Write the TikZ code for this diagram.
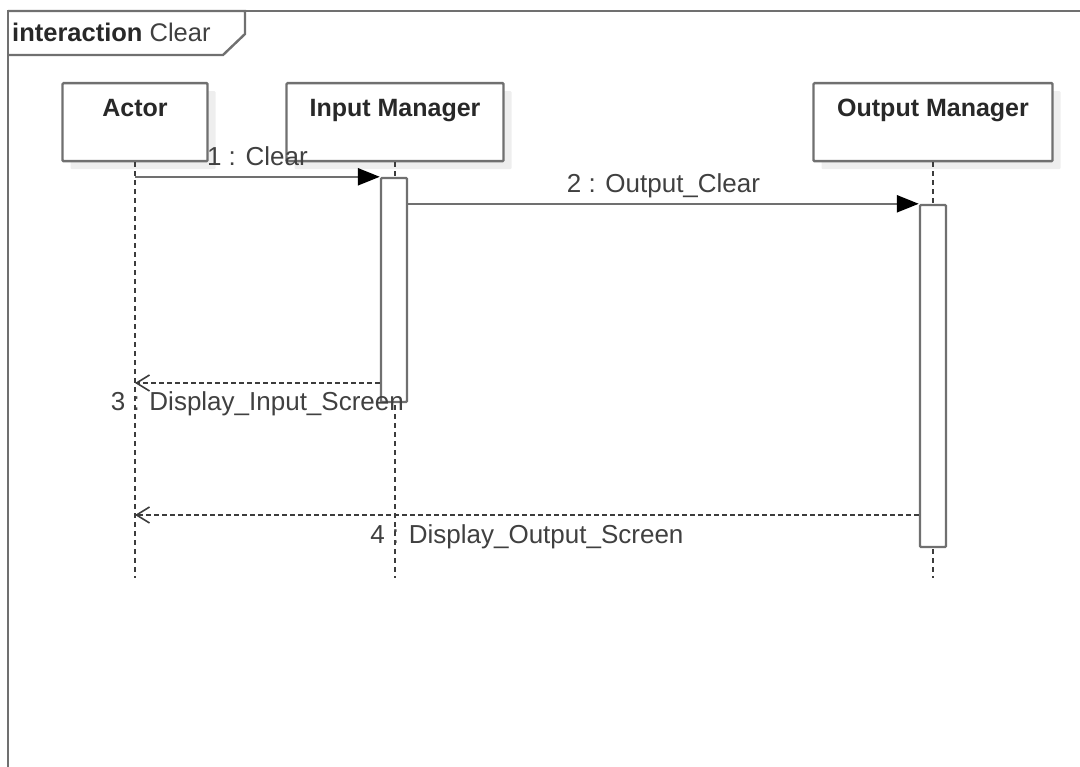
\documentclass[tikz,border=0pt]{standalone}
\usepackage{fontspec}
\setmainfont{Liberation Sans}
\usetikzlibrary{positioning, arrows.meta, shadows}
\definecolor{LineGray}{RGB}{112,112,112}
\definecolor{DashGray}{RGB}{60,60,60}
\definecolor{TextGray}{RGB}{64,64,64}
\definecolor{HeadText}{RGB}{40,40,40}
\definecolor{ShadowGray}{RGB}{238,238,238}

\begin{document}
\begin{tikzpicture}[
  x=1pt, y=-1pt,
  head/.style={
    draw=LineGray,
    line width=2.4pt,
    fill=white,
    rounded corners=1pt,
    anchor=north,
    inner xsep=0pt,
    inner ysep=0pt,
    text height=33pt,
    text depth=45pt,
    text=HeadText,
    font=\fontsize{25}{30}\selectfont\bfseries,
    drop shadow={shadow xshift=8pt, shadow yshift=-8pt, fill=ShadowGray, opacity=1}
  },
  act/.style={
    draw=LineGray,
    line width=2.4pt,
    fill=white,
    rounded corners=1pt,
    minimum width=26pt,
    inner sep=0pt
  },
  life/.style={DashGray, line width=1.6pt, dash pattern=on 5pt off 4pt},
  call/.style={LineGray, line width=2.4pt,
    -{Triangle[length=22pt,width=17pt,color=black]}},
  reply/.style={DashGray, line width=1.8pt, dash pattern=on 5pt off 3pt,
    -{Straight Barb[length=13pt,width=16pt,line width=1.6pt]}},
  lab/.style={text=TextGray, font=\fontsize{26}{31}\selectfont,
    inner sep=0pt, anchor=base},
  labup/.style={lab, yshift=11pt},
  labdown/.style={lab, yshift=-28pt},
]
  \useasboundingbox (0,0) rectangle (1080,767);

  % ========== interaction frame ==========
  \draw[LineGray, line width=2.4pt] (8,767) -- (8,11) -- (1080,11);
  \draw[LineGray, line width=2.4pt] (8,11) -- (245,11) -- (245,34) -- (223,55) -- (8,55);
  \node[anchor=base west, inner sep=0pt, text=HeadText,
    font=\fontsize{25.5}{30}\selectfont] (frametitle) at (12,42)
    {\textbf{interaction} {\color{TextGray}Clear}};

  % ========== lifeline heads ==========
  \node[head, minimum width=145pt] (actor) at (135,82) {Actor};
  \node[head, minimum width=217pt] (inmgr) at (395,82) {Input Manager};
  \node[head, minimum width=239pt] (outmgr) at (933,82) {Output Manager};

  % ========== lifelines ==========
  \coordinate (lend) at (0,578);
  \foreach \L in {actor,inmgr,outmgr}
    \draw[life] (\L.south) -- (\L.south |- lend);

  % ========== activation bars ==========
  \node[act, minimum height=224pt] (inA) at (394,290) {};
  \node[act, minimum height=342pt] (outA) at (933,376) {};

  % ========== messages ==========
  \draw[call] (actor.south |- inA.north west) -- (inA.north west)
    node[labup, midway] {1 : Clear};
  \draw[call] (inA.east |- outA.north west) -- (outA.north west)
    node[labup, midway] {2 : Output\_Clear};

  \coordinate (y3) at (0,383);
  \coordinate (y4) at (0,515);
  \draw[reply] (inA.west |- y3) -- (actor.south |- y3)
    node[labdown, midway] {3 : Display\_Input\_Screen};
  \draw[reply] (outA.west |- y4) -- (actor.south |- y4)
    node[labdown, midway] {4 : Display\_Output\_Screen};

\end{tikzpicture}
\end{document}
